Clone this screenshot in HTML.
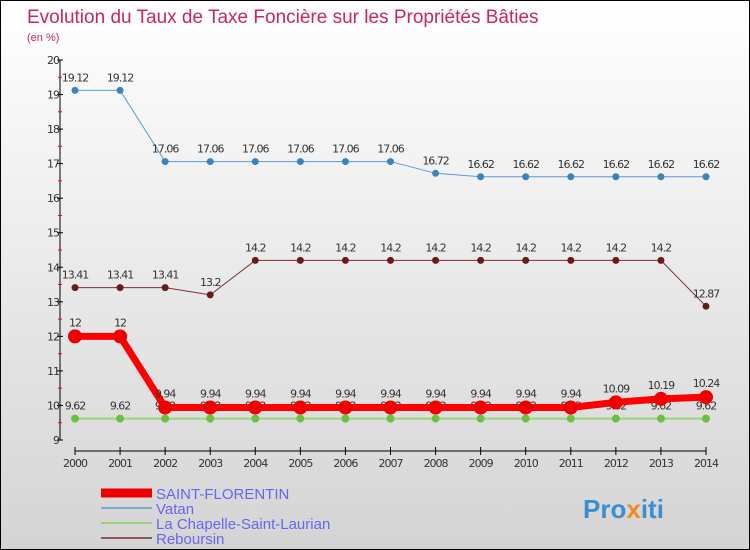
<!DOCTYPE html>
<html><head><meta charset="utf-8"><style>
body{margin:0}
#c{position:relative;width:748px;height:548px;border:1px solid #000;background:linear-gradient(#ffffff,#d4d4d4);overflow:hidden;font-family:"DejaVu Sans","Liberation Sans",sans-serif}
</style></head><body>
<div id="c">
<svg id="s" width="748" height="548">
<text x="26" y="22" font-size="19" fill="#c8285a" font-family="Liberation Sans, sans-serif">Evolution du Taux de Taxe Foncière sur les Propriétés Bâties</text>
<text x="26" y="40" font-size="11" fill="#c8285a" font-family="Liberation Sans, sans-serif">(en %)</text>
<g id="axes"></g><g id="series"></g><g id="legend"></g>
<text x="582" y="517" font-size="26" font-weight="bold" fill="#3a8fd0" font-family="Liberation Sans, sans-serif">Pro<tspan fill="#f08a20">x</tspan>iti</text>
</svg></div>
<script>
const years=[2000,2001,2002,2003,2004,2005,2006,2007,2008,2009,2010,2011,2012,2013,2014];
const yTicks=[9,10,11,12,13,14,15,16,17,18,19,20];
const saint=[12,12,9.94,9.94,9.94,9.94,9.94,9.94,9.94,9.94,9.94,9.94,10.09,10.19,10.24];
const vatan=[19.12,19.12,17.06,17.06,17.06,17.06,17.06,17.06,16.72,16.62,16.62,16.62,16.62,16.62,16.62];
const chap=[9.62,9.62,9.62,9.62,9.62,9.62,9.62,9.62,9.62,9.62,9.62,9.62,9.62,9.62,9.62];
const reb=[13.41,13.41,13.41,13.2,14.2,14.2,14.2,14.2,14.2,14.2,14.2,14.2,14.2,14.2,12.87];
const NS='http://www.w3.org/2000/svg';
const X=i=>74+i*(705-74)/(years.length-1);
const Y=v=>439-(v-9)*(439-59)/11;
function mk(t,a,p,txt){const e=document.createElementNS(NS,t);for(const k in a)e.setAttribute(k,a[k]);if(txt!==undefined)e.textContent=txt;p.appendChild(e);return e;}
const ax=document.getElementById('axes');
let e=mk('line',{x1:59,y1:59,x2:59,y2:439,stroke:'#000'},ax);


yTicks.forEach(v=>{
 mk('line',{x1:56,y1:Y(v),x2:62,y2:Y(v),stroke:'#000'},ax);
 if(v<20)mk('line',{x1:57,y1:Y(v+0.5),x2:61,y2:Y(v+0.5),stroke:'#f00'},ax);
 e=mk('text',{x:58,y:Y(v)+4,'font-size':11,fill:'#333','text-anchor':'end','letter-spacing':'-1'},ax,v);
 
 
});
e=mk('line',{x1:74,y1:450,x2:705,y2:450,stroke:'#000'},ax);


years.forEach((y,i)=>{
 mk('line',{x1:X(i),y1:446,x2:X(i),y2:454,stroke:'#000'},ax);
 e=mk('text',{x:X(i),y:466,'font-size':11,fill:'#333','text-anchor':'middle','letter-spacing':'-1'},ax,y);
 
 
});
const sg=document.getElementById('series');
function series(d,name,col,lw,r,dot,lblOff){
 const g=mk('g',{},sg);
 
 
 mk('polyline',{points:d.map((v,i)=>X(i)+','+Y(v)).join(' '),fill:'none',stroke:col,'stroke-width':lw},g);
 d.forEach((v,i)=>{
  const c=mk('circle',{cx:X(i),cy:Y(v),r:r,fill:dot},g);
  
  
  mk('text',{x:X(i),y:Y(v)+lblOff,'font-size':11,fill:'#333','text-anchor':'middle','letter-spacing':'-1'},g,v);
 });
}
series(chap,'la-chapelle','#9ad47a',2,4,'#6ac040',-9);
series(reb,'reboursin','#7a3030',1,3.5,'#6a1a1a',-9);
series(vatan,'vatan','#5a9ad0',1,3.5,'#3a82c0',-9);
series(saint,'saint-florentin','#f00',7,7,'#e00',-10);
const lg=document.getElementById('legend');
const leg=[['SAINT-FLORENTIN','#e00',9],['Vatan','#7aaad0',2],['La Chapelle-Saint-Laurian','#9ad47a',2],['Reboursin','#8a5a5a',2]];
leg.forEach((l,i)=>{
 const y=492+i*15;
 const g=mk('g',{},lg);
 
 
 mk('line',{x1:100,y1:y,x2:151,y2:y,stroke:l[1],'stroke-width':l[2]},g);
 mk('text',{x:155,y:y+6,'font-size':15,fill:'#6666ee','font-family':'Liberation Sans, sans-serif'},g,l[0]);
});
</script></body></html>
